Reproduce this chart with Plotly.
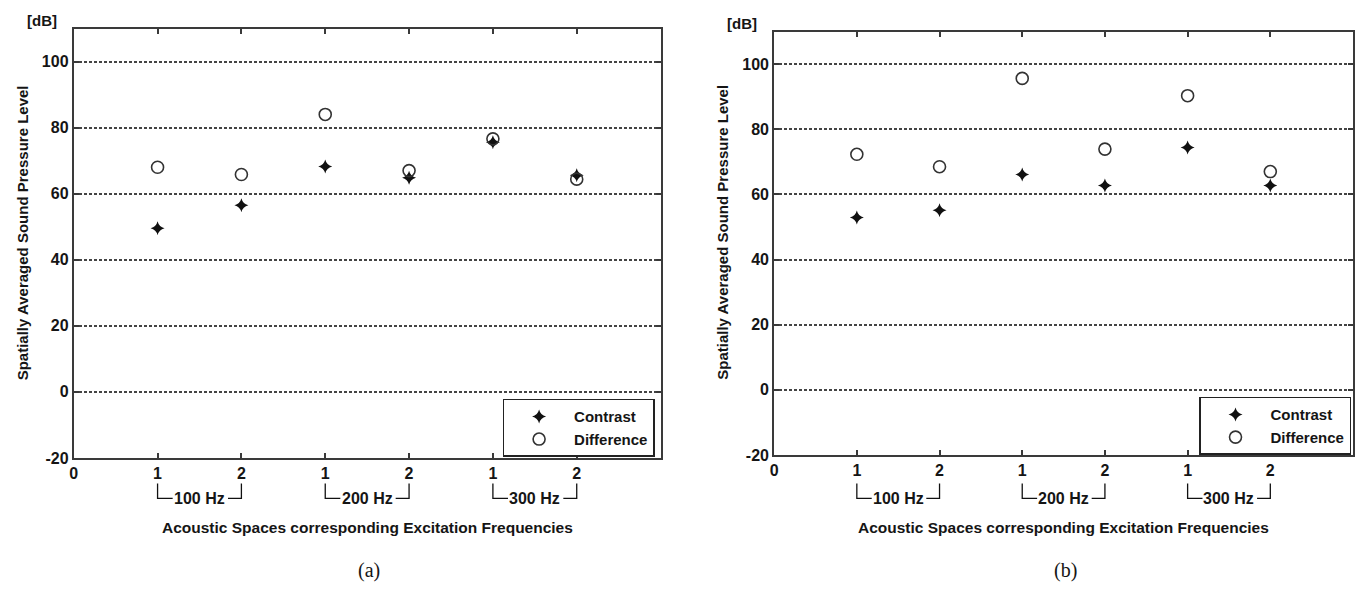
import plotly.graph_objects as go

# ---- data ----
positions = [1, 2, 3, 4, 5, 6]
tick_vals = [0, 1, 2, 3, 4, 5, 6]
tick_text = ["0", "1", "2", "1", "2", "1", "2"]
y_tick_vals = [-20, 0, 20, 40, 60, 80, 100]
y_tick_text = ["-20", "0", "20", "40", "60", "80", "100"]
groups = ["100 Hz", "200 Hz", "300 Hz"]
group_start = [1, 3, 5]
group_end = [2, 4, 6]

contrast_a = [49.5, 56.5, 68.2, 64.8, 75.6, 65.6]
difference_a = [68.0, 65.8, 84.0, 67.0, 76.6, 64.4]
contrast_b = [52.9, 55.1, 66.1, 62.7, 74.4, 62.7]
difference_b = [72.3, 68.5, 95.6, 73.9, 90.3, 67.0]

W, H = 1355, 590
FONT = "Liberation Sans"
TXT = "#151515"

# panel geometry in pixels (left, right, top, bottom)
panels = [
    dict(x0=70, x1=659, y0=29, y1=465, c=contrast_a, d=difference_a, tag="(a)",
         leg=(653, 405)),
    dict(x0=773, x1=1354, y0=32, y1=462, c=contrast_b, d=difference_b, tag="(b)",
         leg=(1352, 403)),
]

fig = go.Figure()
shapes = []
annotations = []


def bold(size):
    return dict(family=FONT, size=size, color=TXT, weight="bold")


for i, p in enumerate(panels):
    n = "" if i == 0 else str(i + 1)
    xa, ya = "x" + n, "y" + n
    legname = "legend" if i == 0 else "legend2"
    fig.add_trace(go.Scatter(
        x=positions, y=p["c"], mode="markers", name="Contrast",
        xaxis=xa, yaxis=ya, legend=legname,
        marker=dict(symbol="star-diamond", size=10, color="#111",
                    line=dict(width=0))))
    fig.add_trace(go.Scatter(
        x=positions, y=p["d"], mode="markers", name="Difference",
        xaxis=xa, yaxis=ya, legend=legname,
        marker=dict(symbol="circle-open", size=12, color="#333",
                    line=dict(width=1.6, color="#333"))))

    axcommon = dict(showline=True, linecolor="#3a3a3a", linewidth=2, mirror="allticks",
                    ticks="inside", ticklen=5, tickcolor="#3a3a3a", tickwidth=1.5,
                    zeroline=False, tickfont=bold(16))
    fig.layout["xaxis" + n] = dict(
        domain=[p["x0"] / W, p["x1"] / W], range=[0, 7], anchor=ya,
        tickmode="array", tickvals=tick_vals, ticktext=tick_text,
        showgrid=False, **axcommon)
    fig.layout["yaxis" + n] = dict(
        domain=[1 - p["y1"] / H, 1 - p["y0"] / H], range=[-20, 110], anchor=xa,
        tickmode="array", tickvals=y_tick_vals, ticktext=y_tick_text,
        showgrid=True, gridcolor="#444", gridwidth=1.5, griddash="3px,2px",
        **axcommon)

    lx, ly = p["leg"]
    fig.layout[legname] = dict(
        x=lx / W, y=1 - ly / H, xanchor="right", yanchor="top",
        xref="paper", yref="paper",
        bordercolor="#222", borderwidth=1.5, bgcolor="white",
        font=bold(15), itemwidth=60, tracegroupgap=0)

    # frequency group brackets below the axis
    yt = 1 - 491 / H
    yb = 1 - 506 / H
    for g, s, e in zip(groups, group_start, group_end):
        for pts in ([(s, yt), (s, yb), (s + 0.18, yb)],
                    [(e - 0.16, yb), (e, yb), (e, yt)]):
            path = "M " + " L ".join(f"{a},{b}" for a, b in pts)
            shapes.append(dict(type="path", path=path, xref=xa, yref="paper",
                               line=dict(color="#111", width=1.3)))
        annotations.append(dict(x=(s + e) / 2, y=1 - 506 / H, xref=xa, yref="paper",
                                text=g, showarrow=False, xanchor="center",
                                yanchor="middle", font=bold(16)))
    cx = (p["x0"] + p["x1"]) / 2
    annotations.append(dict(x=cx / W, y=1 - 536 / H, xref="paper", yref="paper",
                            text="Acoustic Spaces corresponding Excitation Frequencies",
                            showarrow=False, xanchor="center", yanchor="middle",
                            font=bold(15.5)))
    annotations.append(dict(x=(cx + 2) / W, y=1 - 579 / H, xref="paper", yref="paper",
                            text=p["tag"], showarrow=False, xanchor="center",
                            yanchor="middle",
                            font=dict(family="Liberation Serif", size=20, color=TXT)))
    annotations.append(dict(x=(p["x0"] - 52) / W, y=1 - 236 / H, xref="paper",
                            yref="paper", text="Spatially Averaged Sound Pressure Level",
                            textangle=-90, showarrow=False,
                            xanchor="center", yanchor="middle", font=bold(15)))
    annotations.append(dict(x=(p["x0"] - 32) / W, y=1 - (p["y0"] - 8) / H,
                            xref="paper", yref="paper", text="[dB]",
                            showarrow=False, xanchor="center", yanchor="middle",
                            font=bold(15)))

fig.update_layout(
    width=W, height=H, margin=dict(l=0, r=0, t=0, b=0),
    paper_bgcolor="white", plot_bgcolor="white",
    showlegend=True, shapes=shapes, annotations=annotations,
)

fig.write_html("out.html")
